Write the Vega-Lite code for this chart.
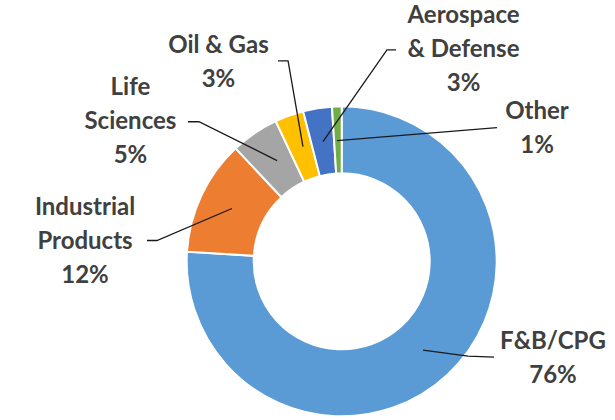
{
  "$schema": "https://vega.github.io/schema/vega-lite/v6.json",
  "width": 615,
  "height": 420,
  "autosize": {"type": "fit", "contains": "padding"},
  "padding": 0,
  "background": "white",
  "config": {"view": {"stroke": null}},
  "datasets": {
    "slices": [
      {"category": "F&B/CPG", "value": 76, "ord": 1},
      {"category": "Industrial Products", "value": 12, "ord": 2},
      {"category": "Life Sciences", "value": 5, "ord": 3},
      {"category": "Oil & Gas", "value": 3, "ord": 4},
      {"category": "Aerospace & Defense", "value": 3, "ord": 5},
      {"category": "Other", "value": 1, "ord": 6}
    ],
    "labels": [
      {"label": "F&B/CPG\n76%", "u": 1.363, "v": -0.519},
      {"label": "Industrial\nProducts\n12%", "u": -1.656, "v": 0.345},
      {"label": "Life\nSciences\n5%", "u": -1.363, "v": 1.119},
      {"label": "Oil & Gas\n3%", "u": -0.795, "v": 1.394},
      {"label": "Aerospace\n& Defense\n3%", "u": 0.786, "v": 1.584},
      {"label": "Other\n1%", "u": 1.26, "v": 0.965}
    ],
    "leaders": [
      {"seg": "oil", "i": 0, "u": -0.411, "v": 1.297},
      {"seg": "oil", "i": 1, "u": -0.346, "v": 1.297},
      {"seg": "oil", "i": 2, "u": -0.25, "v": 0.742},
      {"seg": "aero", "i": 0, "u": 0.35, "v": 1.368},
      {"seg": "aero", "i": 1, "u": 0.292, "v": 1.368},
      {"seg": "aero", "i": 2, "u": -0.121, "v": 0.774},
      {"seg": "other", "i": 0, "u": 1.002, "v": 0.865},
      {"seg": "other", "i": 1, "u": -0.03, "v": 0.781},
      {"seg": "life", "i": 0, "u": -0.992, "v": 0.903},
      {"seg": "life", "i": 1, "u": -0.921, "v": 0.903},
      {"seg": "life", "i": 2, "u": -0.417, "v": 0.652},
      {"seg": "ind", "i": 0, "u": -1.256, "v": 0.135},
      {"seg": "ind", "i": 1, "u": -1.192, "v": 0.135},
      {"seg": "ind", "i": 2, "u": -0.708, "v": 0.342},
      {"seg": "fb", "i": 0, "u": 0.983, "v": -0.619},
      {"seg": "fb", "i": 1, "u": 0.815, "v": -0.613},
      {"seg": "fb", "i": 2, "u": 0.525, "v": -0.574}
    ]
  },
  "layer": [
    {
      "data": {"name": "slices"},
      "mark": {"type": "arc", "outerRadius": 155, "innerRadius": 88, "stroke": "white", "strokeWidth": 2},
      "encoding": {
        "theta": {"field": "value", "type": "quantitative", "stack": true},
        "order": {"field": "ord", "type": "quantitative"},
        "color": {
          "field": "category",
          "type": "nominal",
          "scale": {
            "domain": ["F&B/CPG", "Industrial Products", "Life Sciences", "Oil & Gas", "Aerospace & Defense", "Other"],
            "range": ["#5B9BD5", "#ED7D31", "#A5A5A5", "#FFC000", "#4472C4", "#70AD47"]
          },
          "legend": null
        },
        "x": {"datum": 0, "type": "quantitative", "scale": {"domain": [-2.2045, 1.7632], "nice": false, "zero": false}, "axis": null},
        "y": {"datum": 0, "type": "quantitative", "scale": {"domain": [-1.0194, 1.6903], "nice": false, "zero": false}, "axis": null}
      }
    },
    {
      "data": {"name": "leaders"},
      "mark": {"type": "line", "color": "#1a1a1a", "strokeWidth": 1.3},
      "encoding": {
        "x": {"field": "u", "type": "quantitative", "scale": {"domain": [-2.2045, 1.7632], "nice": false, "zero": false}, "axis": null},
        "y": {"field": "v", "type": "quantitative", "scale": {"domain": [-1.0194, 1.6903], "nice": false, "zero": false}, "axis": null},
        "detail": {"field": "seg", "type": "nominal"},
        "order": {"field": "i", "type": "quantitative"}
      }
    },
    {
      "data": {"name": "labels"},
      "mark": {"type": "text", "font": "Lato", "fontWeight": "bold", "fontSize": 24, "lineHeight": 34, "lineBreak": "\n", "align": "center", "baseline": "middle", "color": "#404040"},
      "encoding": {
        "x": {"field": "u", "type": "quantitative", "scale": {"domain": [-2.2045, 1.7632], "nice": false, "zero": false}, "axis": null},
        "y": {"field": "v", "type": "quantitative", "scale": {"domain": [-1.0194, 1.6903], "nice": false, "zero": false}, "axis": null},
        "text": {"field": "label", "type": "nominal"}
      }
    }
  ]
}
